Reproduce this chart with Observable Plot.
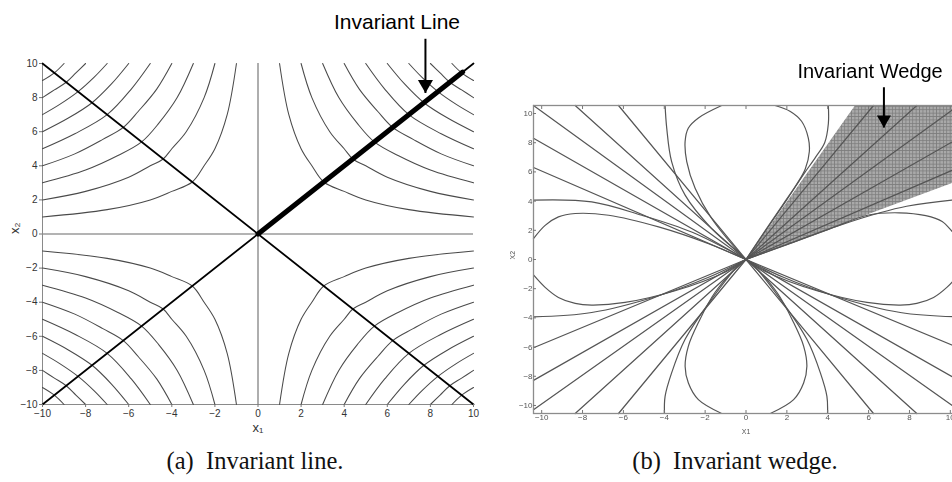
<!DOCTYPE html>
<html>
<head>
<meta charset="utf-8">
<script src="https://cdn.jsdelivr.net/npm/d3@7"></script>
<script src="https://cdn.jsdelivr.net/npm/@observablehq/plot@0.6"></script>
<style>
  html, body { margin: 0; padding: 0; background: #fff; width: 952px; height: 482px; overflow: hidden; position: relative; }
  #panelA { position: absolute; left: 0; top: 0; }
  #panelB { position: absolute; left: 480px; top: 0; width: 490px; }
  #panelA svg, #panelB svg { max-width: none !important; }
  #panelB svg { filter: blur(0.35px); }
  .caption { position: absolute; font-family: "Liberation Serif", "Times New Roman", serif; font-size: 24.5px; color: #111; white-space: nowrap; transform: translateX(-50%); line-height: normal; }
</style>
</head>
<body>
<div id="panelA"></div>
<div id="panelB"></div>
<div class="caption" style="left:255px; top:447px;">(a)&nbsp; Invariant line.</div>
<div class="caption" style="left:735px; top:447px;">(b)&nbsp; Invariant wedge.</div>
<script>
// ---------- Panel (a): saddle with an invariant line ----------
const ticksA = [-10, -8, -6, -4, -2, 0, 2, 4, 6, 8, 10];

// Trajectories of the second quadrant, from the left edge to the diagonal x2 = -x1
// (the other half of each curve is its reflection across that diagonal).
const hyperbolaHalves = [
  [[-10, 1], [-7, 1.43], [-5, 2], [-4, 2.5], [-3.05, 3.05]],
  [[-10, 2], [-8, 2.5], [-6, 3.33], [-5, 4], [-4.4, 4.4]],
  [[-10, 3], [-8, 3.75], [-6.5, 4.6], [-5.4, 5.4]],
  [[-10, 4], [-8.5, 4.7], [-7.2, 5.55], [-6.25, 6.25]],
  [[-10, 5], [-8.5, 5.88], [-7, 7]],
  [[-10, 6], [-8.8, 6.8], [-7.7, 7.7]],
  [[-10, 7], [-9.2, 7.6], [-8.35, 8.35]],
  [[-10, 8], [-9.45, 8.45], [-8.9, 8.9]],
  [[-10, 9], [-9.45, 9.45]]
];
const diagonalLines = [
  [[-10, 10], [10, -10]],
  [[-10, -10], [10, 10]]
];
const invariantLine = [[0, 0], [9.5, 9.5]];
const annotationA = [{label: "Invariant Line", x: 6.45, y: 12.0, arrowX: 7.77, tailY: 11.45, tipY: 8.27}];
const axisLabelsA = {x: "x₁", y: "x₂"};

// Each quadrant reuses the second-quadrant curves with the signs flipped.
const quadrantSigns = [[1, 1], [-1, 1], [1, -1], [-1, -1]];
const hyperbolaRows = [];
hyperbolaHalves.forEach((half, i) => {
  const curve = half.concat(half.slice(0, -1).reverse().map(([a, b]) => [-b, -a]));
  quadrantSigns.forEach(([sx, sy], q) => {
    curve.forEach(([a, b]) => hyperbolaRows.push({x: a * sx, y: b * sy, id: `h${i}q${q}`}));
  });
});
const diagonalRows = diagonalLines.flatMap((seg, i) => seg.map(([x, y]) => ({x, y, id: i})));
const invariantRows = invariantLine.map(([x, y]) => ({x, y}));

const plotA = Plot.plot({
  width: 490,
  height: 442,
  marginLeft: 42,
  marginRight: 17,
  marginTop: 63,
  marginBottom: 38,
  x: {domain: [-10, 10]},
  y: {domain: [-10, 10]},
  style: {fontFamily: "'Liberation Sans', Arial, sans-serif", fontSize: "10px", color: "#333", background: "transparent", overflow: "visible"},
  marks: [
    Plot.ruleX([0], {stroke: "#9a9a9a", strokeWidth: 1.6}),
    Plot.ruleY([0], {stroke: "#9a9a9a", strokeWidth: 1.6}),
    Plot.ruleX([-10], {stroke: "#8a8a8a", strokeWidth: 1}),
    Plot.ruleY([-10], {stroke: "#8a8a8a", strokeWidth: 1}),
    Plot.line(hyperbolaRows, {x: "x", y: "y", z: "id", curve: "catmull-rom", stroke: "#4a4a4a", strokeWidth: 1.05}),
    Plot.line(diagonalRows, {x: "x", y: "y", z: "id", stroke: "#000", strokeWidth: 1.8}),
    Plot.line(invariantRows, {x: "x", y: "y", stroke: "#000", strokeWidth: 5}),
    Plot.axisX({ticks: ticksA, tickSize: 3, tickPadding: 2, stroke: "#777", label: null}),
    Plot.axisY({ticks: ticksA, tickSize: 3, tickPadding: 2, stroke: "#777", label: null}),
    Plot.text([axisLabelsA.x], {frameAnchor: "bottom", dy: 27, fontSize: 13, fill: "#333"}),
    Plot.text([axisLabelsA.y], {frameAnchor: "left", dx: -28, rotate: -90, fontSize: 13, fill: "#333"}),
    // annotation arrow
    Plot.link(annotationA, {x1: "arrowX", x2: "arrowX", y1: "tailY", y2: "tipY", stroke: "#000", strokeWidth: 2}),
    Plot.dot(annotationA, {x: "arrowX", y: "tipY", symbol: "triangle", r: 5.6, rotate: 180, dy: -8.7, fill: "#000", stroke: "none"}),
    Plot.text(annotationA, {x: "x", y: "y", text: "label", lineAnchor: "bottom", fontSize: 21, fill: "#000"})
  ]
});
document.getElementById("panelA").append(plotA);

// ---------- Panel (b): invariant wedge ----------
const ticksB = [-10, -8, -6, -4, -2, 0, 2, 4, 6, 8, 10];

// Straight rays into the origin (end points on the frame), left half; right half mirrors them.
const raysUpper = [[-10.4, 10.55], [-10.4, 8.3], [-10.4, 6.3], [-8.36, 10.55], [-6.24, 10.55]];
const raysLower = [[-10.4, -10.3], [-10.4, -8.28], [-10.4, -6.05], [-8.36, -10.55], [-6.24, -10.55]];

// Curved trajectories of the upper-left quadrant
const curvesUpperLeft = [
  [[-10.4, 4.07], [-7.55, 3.95], [-5.1, 3.03], [-2.66, 1.88], [-0.2, 0.16], [0, 0]],
  [[-10.4, 1.43], [-9.83, 2.34], [-9.18, 2.92], [-8.36, 3.15], [-6.72, 3.03], [-4.28, 2.23], [-1.83, 1.08], [0, 0]],
  [[-3.96, 10.55], [-3.88, 9.01], [-3.64, 6.71], [-2.98, 4.41], [-1.68, 2.12], [-0.21, 0.28], [0, 0]],
  [[-1.19, 10.55], [-2.33, 9.7], [-2.82, 9.01], [-2.98, 8.09], [-2.9, 6.71], [-2.49, 4.88], [-1.68, 2.81], [-0.2, 0.28], [0, 0]]
];
// Curved trajectories of the upper-right quadrant, hugging the wedge
const curvesUpperRight = [
  [[10.4, 4.1], [10.07, 4.07], [7.86, 3.65], [6.55, 3.2], [4.5, 2.3], [2, 1.03], [0, 0]],
  [[10.4, 1.43], [10.07, 1.95], [9.6, 2.6], [8.8, 3.0], [7.5, 3.2], [6.0, 3.05], [4, 2.05], [2, 1.02], [0, 0]],
  [[4.03, 10.55], [4.03, 9.3], [3.85, 8.0], [3.4, 7.0], [2.8, 5.8], [2.0, 4.1], [1.0, 2.05], [0, 0]],
  [[1.42, 10.55], [2.15, 10.16], [2.72, 9.47], [3.05, 8.32], [3.1, 7.4], [2.9, 6.2], [2.5, 5.2], [1.8, 3.75], [0.9, 1.9], [0, 0]]
];
// Curved trajectories of the lower-left quadrant; the lower-right quadrant mirrors them.
const curvesLowerLeft = [
  [[-10.4, -1.06], [-9.83, -1.91], [-9.18, -2.6], [-8.36, -3.01], [-7.55, -3.12], [-5.92, -2.94], [-3.47, -2.14], [-1.03, -0.87], [0, 0]],
  [[-10.4, -3.93], [-7.55, -3.63], [-4.28, -2.48], [-1.83, -1.22], [0, 0]],
  [[-3.99, -10.55], [-3.96, -9.38], [-3.64, -7.77], [-2.98, -5.47], [-1.68, -2.71], [-0.21, -0.18], [0, 0]],
  [[-1.19, -10.55], [-2.33, -9.6], [-2.82, -8.46], [-2.98, -7.31], [-2.82, -5.93], [-2.33, -4.32], [-1.52, -2.26], [-0.21, -0.18], [0, 0]]
];
// Wedge region (origin and its corners on the frame)
const wedge = [[0, 0], [5.33, 10.55], [10.4, 10.55], [10.4, 5.41]];
const annotationB = [{label: "Invariant Wedge", x: 6.07, y: 12.4, arrowX: 6.75, tailY: 11.8, tipY: 9.04}];
const axisLabelsB = {x: "X1", y: "X2"};

const mirror = pts => pts.map(([x, y]) => [-x, y]);
const rayRows = [...raysUpper, ...mirror(raysUpper), ...raysLower, ...mirror(raysLower)]
  .flatMap(([x, y], i) => [{x: 0, y: 0, id: `r${i}`}, {x, y, id: `r${i}`}]);
const curveSets = [...curvesUpperLeft, ...curvesUpperRight, ...curvesLowerLeft, ...curvesLowerLeft.map(mirror)];
const curveRows = curveSets.flatMap((pts, i) => pts.map(([x, y]) => ({x, y, id: `c${i}`})));
const wedgeRows = wedge.map(([x, y]) => ({x, y}));

const plotB = Plot.plot({
  width: 490,
  height: 445,
  marginLeft: 53,
  marginRight: 12,
  marginTop: 105,
  marginBottom: 32,
  x: {domain: [-10.4, 10.4]},
  y: {domain: [-10.55, 10.55]},
  style: {fontFamily: "'Liberation Sans', Arial, sans-serif", fontSize: "8px", color: "#555", background: "transparent", overflow: "visible"},
  marks: [
    Plot.line(wedgeRows, {x: "x", y: "y", fill: "url(#wedgeHatch)", stroke: "none"}),
    Plot.line(rayRows, {x: "x", y: "y", z: "id", stroke: "#555", strokeWidth: 1.2}),
    Plot.line(curveRows, {x: "x", y: "y", z: "id", curve: "catmull-rom", stroke: "#555", strokeWidth: 1.2}),
    Plot.frame({stroke: "#8c8c8c", strokeWidth: 1.3}),
    Plot.axisX({ticks: ticksB, anchor: "bottom", tickSize: -3, tickPadding: 4, stroke: "#777", label: null}),
    Plot.axisX({ticks: ticksB, anchor: "top", tickSize: -3, tickFormat: () => "", stroke: "#777", label: null}),
    Plot.axisY({ticks: ticksB, anchor: "left", tickSize: -3, tickPadding: 4, stroke: "#777", label: null}),
    Plot.text([axisLabelsB.x], {frameAnchor: "bottom", dy: 20, fontSize: 7, fill: "#555"}),
    Plot.text([axisLabelsB.y], {frameAnchor: "left", dx: -21, rotate: -90, fontSize: 7, fill: "#555"}),
    Plot.link(annotationB, {x1: "arrowX", x2: "arrowX", y1: "tailY", y2: "tipY", stroke: "#000", strokeWidth: 2}),
    Plot.dot(annotationB, {x: "arrowX", y: "tipY", symbol: "triangle", r: 5.2, rotate: 180, dy: -8, fill: "#000", stroke: "none"}),
    Plot.text(annotationB, {x: "x", y: "y", text: "label", lineAnchor: "bottom", fontSize: 20, fill: "#000"})
  ]
});
// fine cross-hatch used to fill the wedge
const defs = d3.select(plotB).insert("defs", ":first-child");
const pattern = defs.append("pattern").attr("id", "wedgeHatch").attr("patternUnits", "userSpaceOnUse").attr("width", 3.4).attr("height", 3.4);
pattern.append("rect").attr("width", 3.4).attr("height", 3.4).attr("fill", "#a9a9a9");
pattern.append("path").attr("d", "M0,0.4H3.4M0.4,0V3.4").attr("stroke", "#7c7c7c").attr("stroke-width", 0.8);
document.getElementById("panelB").append(plotB);
</script>
</body>
</html>
